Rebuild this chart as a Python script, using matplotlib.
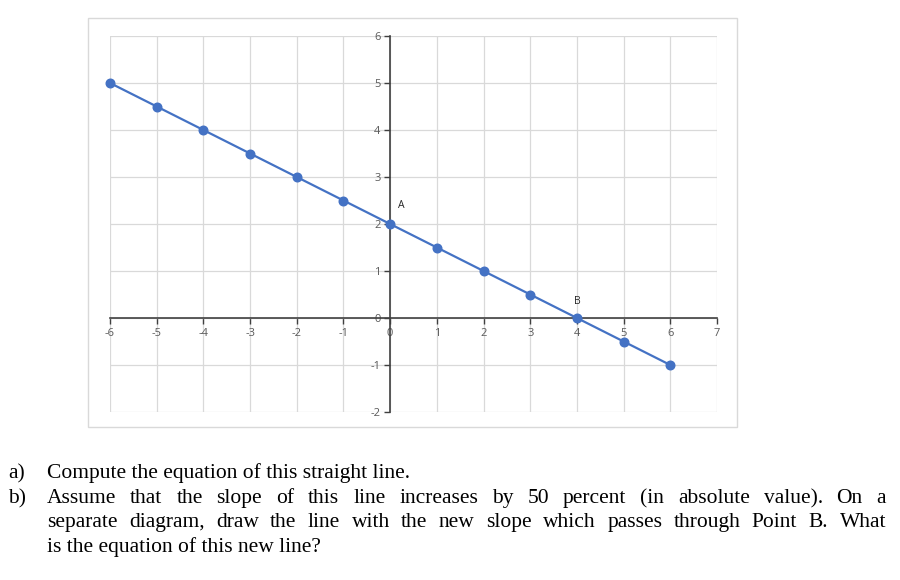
import matplotlib
matplotlib.use("Agg")
import matplotlib.pyplot as plt
from matplotlib.patches import Rectangle

plt.rcParams["axes.unicode_minus"] = False

# ---- data ----
x_vals = [-6, -5, -4, -3, -2, -1, 0, 1, 2, 3, 4, 5, 6]
y_vals = [5, 4.5, 4, 3.5, 3, 2.5, 2, 1.5, 1, 0.5, 0, -0.5, -1]
x_ticks = [-6, -5, -4, -3, -2, -1, 0, 1, 2, 3, 4, 5, 6, 7]
y_ticks = [-2, -1, 0, 1, 2, 3, 4, 5, 6]
point_labels = ["A", "B"]
point_x = [0, 4]
point_y = [2, 0]

question_lines = [
    ("a)", "Compute the equation of this straight line.", False),
    ("b)", "Assume that the slope of this line increases by 50 percent (in absolute value). On a", True),
    ("", "separate diagram, draw the line with the new slope which passes through Point B. What", True),
    ("", "is the equation of this new line?", False),
]

W, H = 900, 580
fig = plt.figure(figsize=(9, 5.8), dpi=100)

# chart frame
fig.patches.append(Rectangle((88 / W, 1 - 427 / H), 649 / W, 409 / H,
                             transform=fig.transFigure, fill=False,
                             edgecolor="#d9d9d9", linewidth=1.0))

ax = fig.add_axes([110 / W, 1 - 412 / H, (717 - 110) / W, (412 - 36) / H])
ax.set_xlim(-6, 7)
ax.set_ylim(-2, 6)
ax.set_xticks(x_ticks)
ax.set_yticks(y_ticks)
ax.grid(True, color="#d9d9d9", linewidth=0.9)
ax.set_axisbelow(True)
for s in ["top", "right"]:
    ax.spines[s].set_visible(False)
for s in ["left", "bottom"]:
    ax.spines[s].set_position(("data", 0))
    ax.spines[s].set_color("#404040")
    ax.spines[s].set_linewidth(1.2)
    ax.spines[s].set_zorder(2.5)
ax.tick_params(axis="both", direction="out", length=4, width=1, color="#404040",
               labelsize=8, labelcolor="#595959", pad=3)
for lab in ax.get_xticklabels() + ax.get_yticklabels():
    lab.set_fontfamily("Open Sans")

ax.plot(x_vals, y_vals, color="#4472C4", linewidth=1.6, marker="o",
        markersize=6.2, zorder=3, clip_on=False)

for t, px, py in zip(point_labels, point_x, point_y):
    off = (8, 13) if t == "A" else (0, 12)
    ax.annotate(t, (px, py), xytext=off, textcoords="offset points",
                ha="center", va="center", fontsize=7.5, color="#262626",
                fontfamily="Open Sans")

# question text
fs = 15.5
font = dict(fontsize=fs, fontfamily="Liberation Serif", color="black", va="baseline")
baselines = [478, 503, 527, 552]
left_label = 8
left_text = 47
right_edge = 886
renderer = fig.canvas.get_renderer()
for (lab, line, justify), b in zip(question_lines, baselines):
    yf = 1 - b / H
    if lab:
        fig.text(left_label / W, yf, lab, **font)
    if not justify:
        fig.text(left_text / W, yf, line, **font)
    else:
        words = line.split(" ")
        objs = [fig.text(0, yf, w, **font) for w in words]
        widths = [o.get_window_extent(renderer).width for o in objs]
        gap = (right_edge - left_text - sum(widths)) / (len(words) - 1)
        xpos = left_text
        for o, w in zip(objs, widths):
            o.set_x(xpos / W)
            xpos += w + gap

fig.savefig("out.png", dpi=100)
